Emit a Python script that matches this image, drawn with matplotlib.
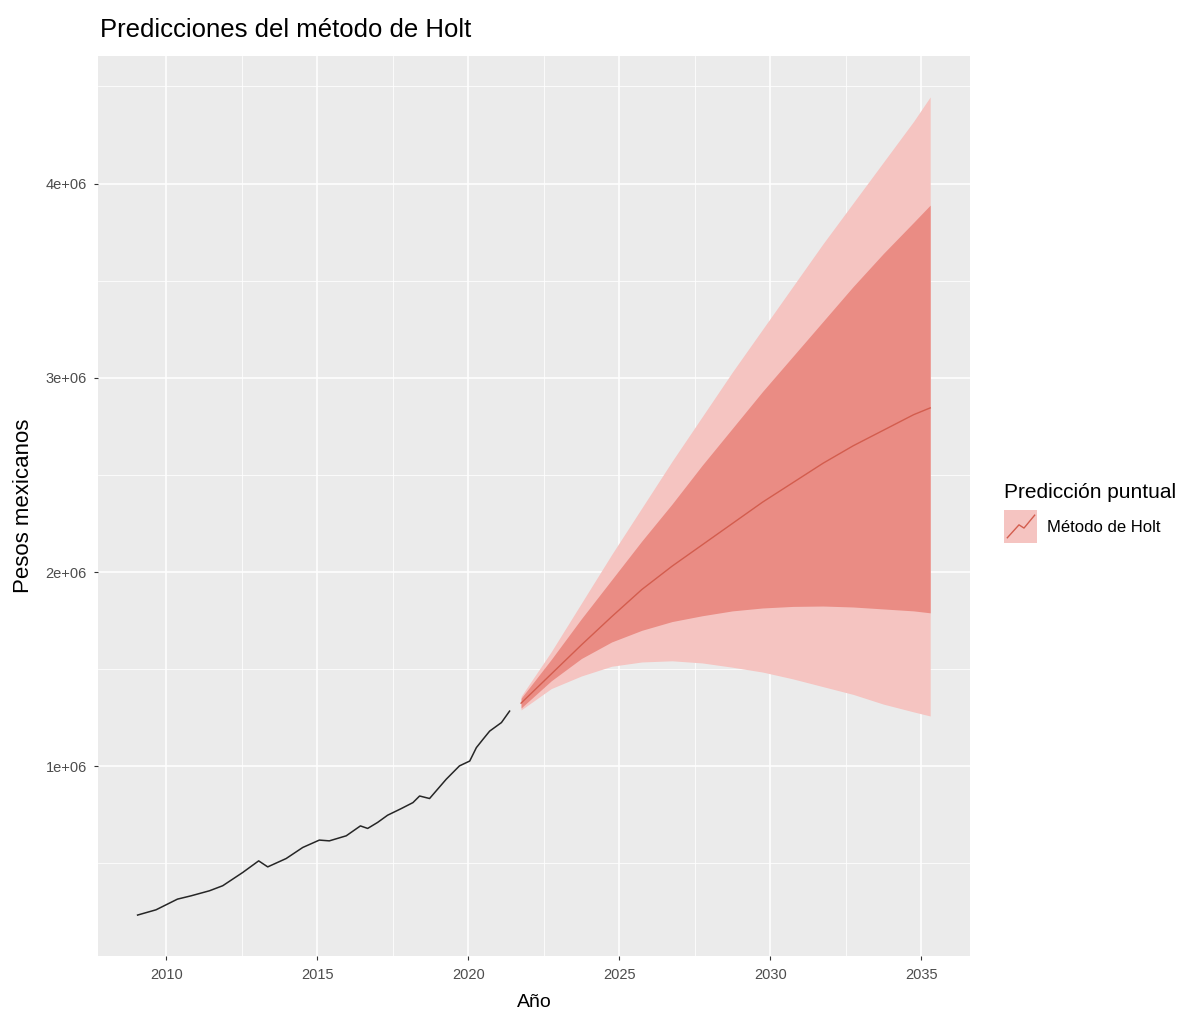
import matplotlib
matplotlib.use("Agg")
import matplotlib.pyplot as plt
from matplotlib.legend_handler import HandlerBase
from matplotlib.patches import Rectangle
from matplotlib.lines import Line2D

plt.rcParams["font.family"] = ["Liberation Sans", "DejaVu Sans"]

# serie historica (años, pesos)
anios_hist = [2009.05, 2009.66, 2010.37, 2010.82, 2011.43, 2011.87, 2012.53, 2013.06,
              2013.36, 2013.97, 2014.52, 2015.07, 2015.40, 2015.96, 2016.43, 2016.67,
              2017.00, 2017.33, 2017.78, 2018.17, 2018.39, 2018.72, 2019.27, 2019.71,
              2020.05, 2020.27, 2020.49, 2020.71, 2021.10, 2021.37]
valores_hist = [0.234e6, 0.261e6, 0.316e6, 0.333e6, 0.359e6, 0.385e6, 0.453e6, 0.513e6,
                0.482e6, 0.525e6, 0.582e6, 0.620e6, 0.616e6, 0.642e6, 0.693e6, 0.680e6,
                0.711e6, 0.748e6, 0.782e6, 0.813e6, 0.847e6, 0.834e6, 0.933e6, 1.002e6,
                1.027e6, 1.096e6, 1.139e6, 1.181e6, 1.225e6, 1.284e6]

# pronostico de Holt
anios_pred = [2021.75, 2022.75, 2023.75, 2024.75, 2025.75, 2026.75, 2027.75, 2028.75,
              2029.75, 2030.75, 2031.75, 2032.75, 2033.75, 2034.75, 2035.3]
media = [1.325e6, 1.475e6, 1.625e6, 1.770e6, 1.910e6, 2.030e6, 2.140e6, 2.250e6,
         2.360e6, 2.460e6, 2.560e6, 2.650e6, 2.730e6, 2.810e6, 2.845e6]
sup95 = [1.360e6, 1.590e6, 1.840e6, 2.090e6, 2.330e6, 2.570e6, 2.800e6, 3.030e6,
         3.250e6, 3.470e6, 3.690e6, 3.900e6, 4.110e6, 4.320e6, 4.446e6]
sup80 = [1.350e6, 1.550e6, 1.760e6, 1.960e6, 2.160e6, 2.350e6, 2.550e6, 2.740e6,
         2.930e6, 3.110e6, 3.290e6, 3.470e6, 3.640e6, 3.800e6, 3.889e6]
inf80 = [1.300e6, 1.440e6, 1.555e6, 1.640e6, 1.700e6, 1.745e6, 1.775e6, 1.800e6,
         1.815e6, 1.823e6, 1.825e6, 1.820e6, 1.810e6, 1.800e6, 1.790e6]
inf95 = [1.290e6, 1.400e6, 1.465e6, 1.515e6, 1.537e6, 1.543e6, 1.532e6, 1.510e6,
         1.485e6, 1.450e6, 1.410e6, 1.370e6, 1.320e6, 1.280e6, 1.259e6]

xticks = [2010, 2015, 2020, 2025, 2030, 2035]
xticks_menores = [2012.5, 2017.5, 2022.5, 2027.5, 2032.5]
yticks = [1e6, 2e6, 3e6, 4e6]
ytick_labels = ["1e+06", "2e+06", "3e+06", "4e+06"]
yticks_menores = [0.5e6, 1.5e6, 2.5e6, 3.5e6, 4.5e6]

COLOR_95 = "#F5C4C1"
COLOR_80 = "#EA8C84"
COLOR_MEDIA = "#D35D4E"


class HandlerAbanico(HandlerBase):
    def create_artists(self, legend, orig_handle, xdescent, ydescent,
                       width, height, fontsize, trans):
        x0, y0 = -xdescent, -ydescent
        rect = Rectangle((x0, y0), width, height, facecolor=COLOR_95,
                         edgecolor="none", transform=trans)
        xs = [x0 + f * width for f in (0.1, 0.45, 0.6, 0.92)]
        ys = [y0 + f * height for f in (0.15, 0.55, 0.45, 0.85)]
        linea = Line2D(xs, ys, color=COLOR_MEDIA, lw=1.0, transform=trans)
        return [rect, linea]


fig = plt.figure(figsize=(11.83, 10.13), dpi=100)
ax = fig.add_axes([0.0828, 0.0563, 0.737, 0.8884])
ax.set_facecolor("#EBEBEB")
for s in ax.spines.values():
    s.set_visible(False)

ax.fill_between(anios_pred, inf95, sup95, color=COLOR_95, lw=0, zorder=2)
ax.fill_between(anios_pred, inf80, sup80, color=COLOR_80, lw=0, zorder=3)
ax.plot(anios_pred, media, color=COLOR_MEDIA, lw=1.0, zorder=4)
ax.plot(anios_hist, valores_hist, color="#262626", lw=1.1, zorder=4)

ax.margins(x=0.05, y=0.05)
ax.set_xticks(xticks)
ax.set_xticks(xticks_menores, minor=True)
ax.set_yticks(yticks)
ax.set_yticklabels(ytick_labels)
ax.set_yticks(yticks_menores, minor=True)
ax.grid(which="major", color="white", lw=1.1, zorder=0)
ax.grid(which="minor", color="white", lw=0.55, zorder=0)
ax.set_axisbelow(True)
ax.tick_params(which="major", length=3, width=0.8, color="#333333",
               labelcolor="#4D4D4D", labelsize=10.5)
ax.tick_params(axis="x", which="major", pad=6)
ax.tick_params(axis="y", which="major", pad=5)
ax.tick_params(which="minor", length=0)

ax.set_xlabel("Año", fontsize=14, color="black", labelpad=8)
ax.set_ylabel("Pesos mexicanos", fontsize=16, color="black", labelpad=8)
fig.text(0.0845, 0.970, "Predicciones del método de Holt", fontsize=18.5,
         va="center", ha="left")

manejador = Rectangle((0, 0), 1, 1)
leg = fig.legend([manejador], ["Método de Holt"], loc="upper left",
                 bbox_to_anchor=(0.836, 0.538), frameon=False, fontsize=12,
                 title="Predicción puntual", title_fontsize=15,
                 handlelength=2.0, handleheight=2.6, handletextpad=0.6,
                 handler_map={Rectangle: HandlerAbanico()})
leg._legend_box.align = "left"

fig.savefig("out.png", dpi=100)
